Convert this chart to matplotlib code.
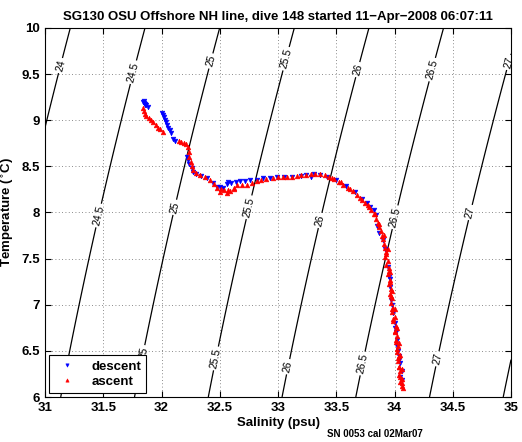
import numpy as np
import matplotlib
matplotlib.use("Agg")
import matplotlib.pyplot as plt

plt.rcParams['font.family'] = ['Liberation Sans', 'DejaVu Sans']

# descent (blue) salinity / temperature
desc_s = [31.84, 31.85, 31.86, 31.87, 31.88, 31.86, 31.85,
          32.00, 32.01, 32.02, 32.03, 32.04, 32.05, 32.06, 32.07, 32.08, 32.10, 32.12,
          32.22, 32.23, 32.24, 32.26, 32.27, 32.30, 32.34, 32.39, 32.44, 32.48, 32.50,
          32.53, 32.56, 32.57, 32.60, 32.64, 32.67, 32.72, 32.76, 32.82, 32.87, 32.93,
          32.99, 33.05, 33.12, 33.20, 33.24, 33.28, 33.31, 33.36, 33.42, 33.50, 33.58,
          33.66, 33.72, 33.76, 33.79, 33.82, 33.84, 33.85, 33.87, 33.90, 33.92, 33.94,
          33.95, 33.96, 33.97, 33.99, 34.00, 34.01, 34.02, 34.03, 34.04, 34.05, 34.05,
          33.96, 33.98, 34.00, 34.02, 34.04, 34.06, 34.06]
desc_t = [9.20, 9.19, 9.17, 9.16, 9.14, 9.18, 9.21,
          9.08, 9.06, 9.03, 9.00, 8.98, 8.95, 8.92, 8.89, 8.86, 8.80, 8.77,
          8.60, 8.57, 8.53, 8.48, 8.44, 8.42, 8.40, 8.37, 8.32, 8.28, 8.28,
          8.27, 8.31, 8.33, 8.32, 8.33, 8.34, 8.34, 8.35, 8.35, 8.37, 8.37,
          8.38, 8.38, 8.39, 8.40, 8.41, 8.39, 8.42, 8.41, 8.39, 8.35, 8.29,
          8.22, 8.15, 8.10, 8.06, 8.03, 7.97, 7.85, 7.78, 7.70, 7.60, 7.41,
          7.30, 7.19, 7.05, 6.91, 6.80, 6.70, 6.62, 6.50, 6.44, 6.37, 6.22,
          7.28, 7.00, 6.75, 6.55, 6.40, 6.28, 6.18]

# ascent (red)
asc_s = [31.84, 31.85, 31.86, 31.87, 31.89, 31.91, 31.93, 31.95, 31.97, 31.99, 32.01,
         32.15, 32.17, 32.19, 32.21, 32.23, 32.24, 32.24, 32.25, 32.26, 32.27,
         32.30, 32.33, 32.37, 32.42, 32.45, 32.48, 32.51, 32.54, 32.57, 32.59,
         32.62, 32.65, 32.69, 32.73, 32.78, 32.82, 32.85, 32.90, 32.96, 33.00,
         33.04, 33.08, 33.12, 33.16, 33.20, 33.24, 33.28, 33.32, 33.36, 33.40,
         33.44, 33.48, 33.52, 33.56, 33.60, 33.64, 33.68, 33.72, 33.75, 33.78,
         33.80, 33.82, 33.84, 33.86, 33.87, 33.88, 33.89, 33.90, 33.91, 33.92,
         33.93, 33.92, 33.94, 33.93, 33.95, 33.94, 33.96, 33.95, 33.97, 33.96,
         33.98, 33.97, 33.99, 33.98, 34.00, 33.99, 34.01, 34.00, 34.02, 34.01,
         34.03, 34.02, 34.04, 34.03, 34.04, 34.05, 34.04, 34.06, 34.05, 34.06,
         # second edge of the thick band
         32.50, 32.56, 32.62, 33.46, 33.54, 33.62, 33.70, 33.77, 33.83, 33.87,
         33.91, 33.93, 33.95, 33.96, 33.97, 33.98, 33.99, 34.00, 34.01, 34.02,
         34.03, 34.04, 34.05, 34.06, 34.07, 33.94, 33.96, 33.98, 34.00, 34.02,
         34.04, 34.05, 34.06]
asc_t = [9.13, 9.10, 9.07, 9.05, 9.02, 9.00, 8.98, 8.95, 8.92, 8.90, 8.87,
         8.77, 8.76, 8.75, 8.74, 8.71, 8.66, 8.60, 8.55, 8.50, 8.46,
         8.43, 8.41, 8.38, 8.35, 8.31, 8.27, 8.25, 8.24, 8.24, 8.23,
         8.27, 8.30, 8.30, 8.30, 8.32, 8.34, 8.35, 8.36, 8.37, 8.38,
         8.38, 8.39, 8.39, 8.40, 8.41, 8.41, 8.42, 8.42, 8.42, 8.41,
         8.39, 8.36, 8.33, 8.30, 8.27, 8.23, 8.19, 8.14, 8.10, 8.06,
         8.03, 7.98, 7.93, 7.89, 7.84, 7.80, 7.75, 7.71, 7.66, 7.62,
         7.57, 7.52, 7.47, 7.43, 7.37, 7.33, 7.27, 7.22, 7.17, 7.12,
         7.07, 7.02, 6.97, 6.92, 6.87, 6.82, 6.77, 6.71, 6.66, 6.60,
         6.55, 6.49, 6.44, 6.39, 6.33, 6.28, 6.24, 6.20, 6.16, 6.12,
         8.22, 8.21, 8.25, 8.37, 8.33, 8.25, 8.16, 8.08, 7.98, 7.87,
         7.76, 7.55, 7.40, 7.25, 7.10, 6.95, 6.85, 6.72, 6.62, 6.52,
         6.42, 6.32, 6.22, 6.15, 6.10, 7.60, 7.35, 7.15, 6.95, 6.75,
         6.58, 6.45, 6.30]

sigma_levels = [24, 24.5, 25, 25.5, 26, 26.5, 27, 27.5]

# contour label spots (salinity, temperature)
label_spots = [(31.11, 9.60), (31.76, 9.52), (32.40, 9.65), (33.06, 9.67),
               (33.68, 9.55), (34.32, 9.55), (34.97, 9.63),
               (31.45, 7.97), (32.10, 8.06), (32.74, 8.06), (33.34, 7.92),
               (34.00, 7.95), (34.65, 8.00),
               (31.84, 6.48), (32.46, 6.42), (33.08, 6.33), (33.70, 6.37),
               (34.35, 6.42)]


def sigma_t(s, t):
    """UNESCO 1980 density at the surface, minus 1000."""
    rho_w = (999.842594 + 6.793952e-2 * t - 9.095290e-3 * t**2
             + 1.001685e-4 * t**3 - 1.120083e-6 * t**4 + 6.536332e-9 * t**5)
    a = (8.24493e-1 - 4.0899e-3 * t + 7.6438e-5 * t**2
         - 8.2467e-7 * t**3 + 5.3875e-9 * t**4)
    b = -5.72466e-3 + 1.0227e-4 * t - 1.6546e-6 * t**2
    c = 4.8314e-4
    return rho_w + a * s + b * s**1.5 + c * s**2 - 1000.0


fig = plt.figure(figsize=(5.22, 4.42), dpi=100)
ax = fig.add_axes([0.0862, 0.1018, 0.8928, 0.8349])

ss, tt = np.meshgrid(np.linspace(31, 35, 300), np.linspace(6, 10, 300))
cs = ax.contour(ss, tt, sigma_t(ss, tt), levels=sigma_levels,
                colors='k', linewidths=0.9)
ax.clabel(cs, fmt='%g', fontsize=7.5, inline=True, inline_spacing=2,
          manual=label_spots)

ax.plot(desc_s, desc_t, 'v', color='#0000ff', markersize=3.4,
        markeredgewidth=0.4, label='descent')
ax.plot(asc_s, asc_t, '^', color='#ff0000', markersize=3.4,
        markeredgewidth=0.4, label='ascent')

ax.set_xlim(31, 35)
ax.set_ylim(6, 10)
ax.set_xticks(np.arange(31, 35.01, 0.5))
ax.set_yticks(np.arange(6, 10.01, 0.5))
ax.set_xticklabels(['31', '31.5', '32', '32.5', '33', '33.5', '34', '34.5', '35'])
ax.set_yticklabels(['6', '6.5', '7', '7.5', '8', '8.5', '9', '9.5', '10'])
ax.tick_params(direction='in', top=True, right=True, length=4, width=0.8,
               labelsize=9.5)
for lab in ax.get_xticklabels() + ax.get_yticklabels():
    lab.set_fontweight('bold')
ax.grid(True, linestyle=(0, (1, 3)), color='#666666', linewidth=0.6)
for sp in ax.spines.values():
    sp.set_linewidth(0.8)

ax.set_xlabel('Salinity (psu)', fontsize=9.5, fontweight='bold', labelpad=2)
ax.set_ylabel('Temperature ($^{\\circ}$C)', fontsize=9.5, fontweight='bold',
              labelpad=4)
ax.set_title('SG130 OSU Offshore NH line, dive 148 started 11\u2212Apr\u22122008 06:07:11',
             fontsize=9.5, fontweight='bold', pad=6)

leg = ax.legend(loc='lower left', fancybox=False, edgecolor='k',
                framealpha=1, borderpad=0.4, handletextpad=0.8,
                prop={'weight': 'bold', 'size': 9.5}, borderaxespad=0.3,
                labelspacing=0.2, markerscale=0.7)
leg.get_frame().set_linewidth(0.8)

fig.text(0.627, 0.012, 'SN 0053 cal 02Mar07', fontsize=7, fontweight='bold')

fig.savefig('out.png', dpi=100)
